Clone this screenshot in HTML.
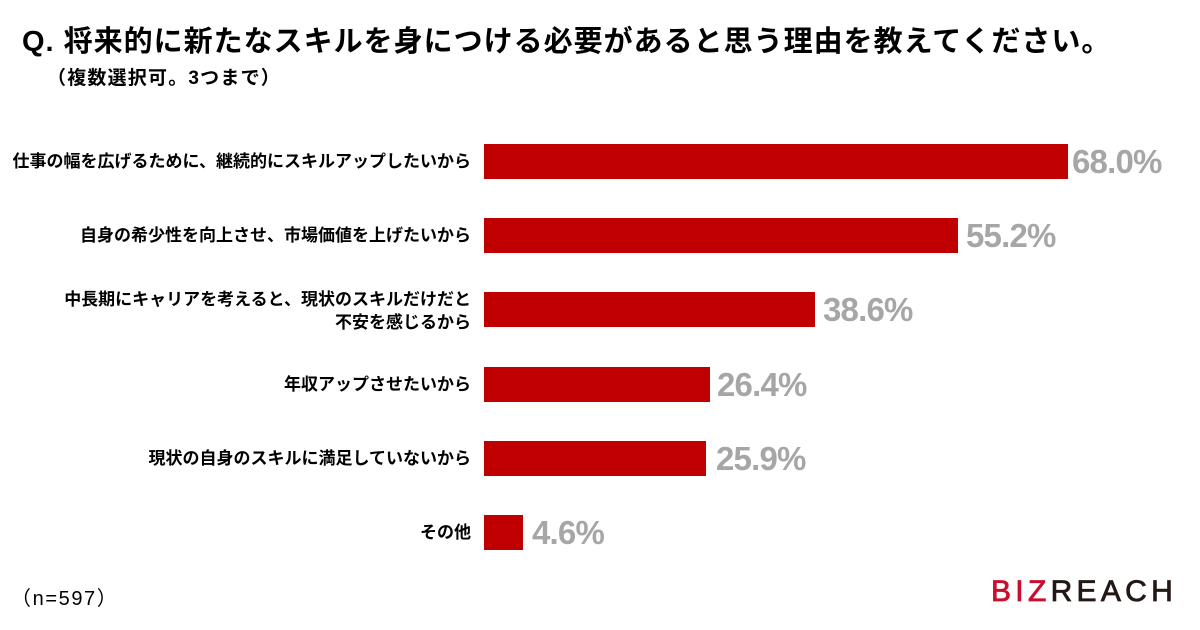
<!DOCTYPE html>
<html>
<head>
<meta charset="utf-8">
<style>
  html, body { margin:0; padding:0; }
  body { width:1200px; height:630px; background:#ffffff; position:relative; overflow:hidden;
         font-family:"Liberation Sans","Noto Sans CJK JP",sans-serif; color:#000; }
  .abs { position:absolute; white-space:nowrap; }
  .title { left:22px; top:28px; font-size:29px; line-height:29px; font-weight:700; letter-spacing:1px; }
  .sub { left:47px; top:69px; font-size:19px; line-height:20px; font-weight:700; letter-spacing:1.2px; }
  .bar { position:absolute; left:484px; height:35px; background:#c00000; }
  .lbl { position:absolute; right:729px; font-size:17px; font-weight:700; text-align:right; white-space:nowrap; line-height:23px; }
  .pct { position:absolute; font-size:33px; line-height:36px; font-weight:700; color:#a6a6a6; letter-spacing:-0.8px; white-space:nowrap; }
  .n { left:11px; top:588px; font-size:20px; line-height:22px; letter-spacing:1.6px; }
  .logo { left:991px; top:577px; font-size:30px; line-height:30px; letter-spacing:4.3px; font-weight:400; -webkit-text-stroke:0.8px currentColor; }
</style>
</head>
<body>
  <div class="abs title">Q. 将来的に新たなスキルを身につける必要があると思う理由を教えてください。</div>
  <div class="abs sub">（複数選択可。3つまで）</div>

  <!-- bars -->
  <div class="bar" style="top:144px; width:584px;"></div>
  <div class="bar" style="top:218px; width:474px;"></div>
  <div class="bar" style="top:292px; width:331px;"></div>
  <div class="bar" style="top:367px; width:226px;"></div>
  <div class="bar" style="top:441px; width:222px;"></div>
  <div class="bar" style="top:515px; width:39px;"></div>

  <!-- labels -->
  <div class="lbl" style="top:150px;">仕事の幅を広げるために、継続的にスキルアップしたいから</div>
  <div class="lbl" style="top:224px;">自身の希少性を向上させ、市場価値を上げたいから</div>
  <div class="lbl" style="top:288px;">中長期にキャリアを考えると、現状のスキルだけだと<br>不安を感じるから</div>
  <div class="lbl" style="top:373px;">年収アップさせたいから</div>
  <div class="lbl" style="top:447px;">現状の自身のスキルに満足していないから</div>
  <div class="lbl" style="top:521px;">その他</div>

  <!-- values -->
  <div class="pct" style="left:1072px; top:144px;">68.0%</div>
  <div class="pct" style="left:966px; top:218px;">55.2%</div>
  <div class="pct" style="left:823px; top:292px;">38.6%</div>
  <div class="pct" style="left:717px; top:367px;">26.4%</div>
  <div class="pct" style="left:716px; top:441px;">25.9%</div>
  <div class="pct" style="left:532px; top:515px;">4.6%</div>

  <div class="abs n">（n=597）</div>
  <div class="abs logo"><span style="color:#c8102e;">BIZ</span><span style="color:#231815;">REACH</span></div>
</body>
</html>
